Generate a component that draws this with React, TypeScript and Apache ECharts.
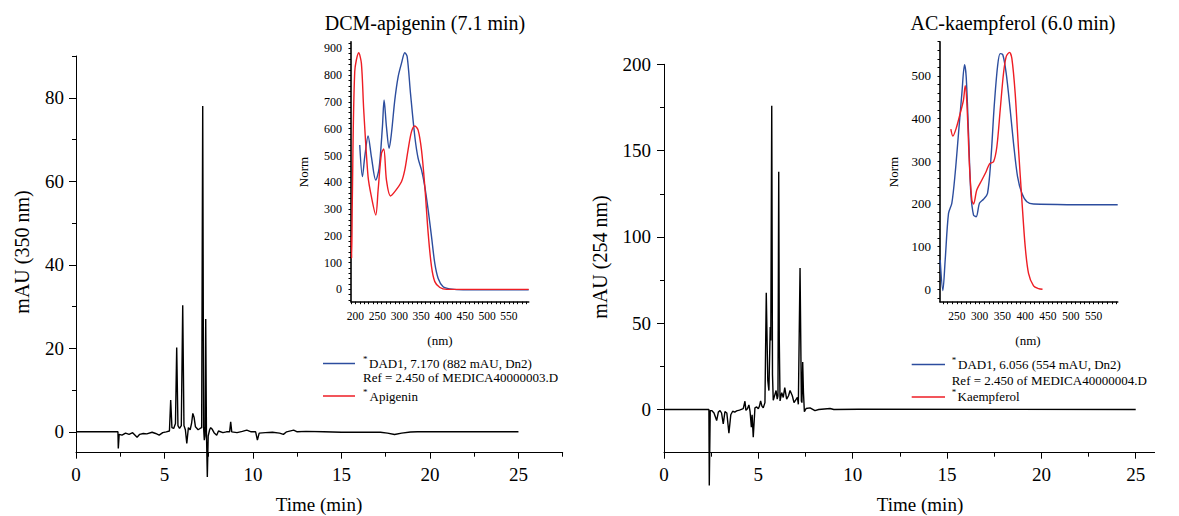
import React, { useEffect, useRef } from "react";
import * as echarts from "echarts";

// ---- Chromatogram (350 nm) : [time min, mAU]
const trace350: [number, number][] = [
  [0, 0], [2.37, 0], [2.39, -4], [2.44, -0.6], [2.6, -0.8], [2.8, -0.3], [3.0, -0.6], [3.2, -0.2],
  [3.45, -1.3], [3.6, -0.6], [3.8, -0.4], [4.0, -0.5], [4.3, -0.1], [4.5, -0.4], [4.7, -0.8],
  [4.9, -0.2], [5.1, 0], [5.28, 0.2], [5.35, 7.6], [5.42, 1], [5.52, 0.8], [5.62, 2], [5.69, 20.2],
  [5.76, 1.5], [5.85, 0.8], [5.95, 1.5], [6.03, 30.3], [6.1, 1.5], [6.18, 0.5], [6.26, -2.8],
  [6.35, 1], [6.45, 0.5], [6.53, 2], [6.6, 4.4], [6.67, 3.5], [6.75, 1.2], [6.9, 0.5], [7.01, 0.8],
  [7.1, 1], [7.16, 78], [7.21, 1], [7.25, -2], [7.29, -1], [7.33, 27], [7.37, 0], [7.42, -10.8],
  [7.47, -1], [7.55, 0.5], [7.61, 1], [7.7, 0.6], [7.8, -0.2], [7.95, -0.8], [8.05, 0.2], [8.3, -0.2],
  [8.5, 0], [8.68, 0], [8.74, 2.4], [8.8, 0], [9.1, -0.2], [9.4, 0.1], [9.65, 0.4], [9.9, 0],
  [10.15, 0], [10.25, -2], [10.35, -0.3], [10.7, -0.2], [11.1, -0.1], [11.5, -0.3], [11.72, -0.6],
  [11.9, 0], [12.3, 0.4], [12.5, 0], [13, 0.1], [14, 0], [15, -0.1], [16, -0.1], [17.2, -0.1],
  [17.6, -0.3], [18.0, -0.65], [18.4, -0.3], [18.9, -0.05], [19.3, 0], [25, 0],
];

// ---- Chromatogram (254 nm)
const trace254: [number, number][] = [
  [0, 0], [2.38, 0], [2.40, -44], [2.45, -0.6], [2.53, -0.6], [2.65, -2], [2.79, -6.4], [2.88, -1.5],
  [2.97, -0.6], [3.05, -2], [3.14, -8.3], [3.23, -1.2], [3.33, -2], [3.44, -13.7], [3.54, -3],
  [3.64, -1], [3.75, -1.5], [3.85, -0.8], [4.0, -0.3], [4.2, 0.5], [4.29, 4.8], [4.34, -0.5],
  [4.42, 0.5], [4.5, 2.7], [4.56, -1], [4.63, -10.2], [4.67, -3], [4.73, -16], [4.82, 1],
  [4.91, 1.5], [5.0, 0.5], [5.06, 2], [5.12, 5], [5.19, 2], [5.26, 1], [5.32, 3], [5.35, 4],
  [5.42, 67.7], [5.5, 16.8], [5.56, 11], [5.63, 47.8], [5.66, 40], [5.71, 176], [5.75, 20],
  [5.79, 5.4], [5.86, 8], [5.94, 11], [6.0, 6], [6.04, 8], [6.08, 137.7], [6.11, 40], [6.15, 5],
  [6.24, 9.8], [6.32, 7], [6.4, 12.7], [6.5, 6], [6.6, 8], [6.68, 11], [6.8, 8], [6.89, 4],
  [7.07, 7], [7.12, 3], [7.21, 82], [7.28, 5], [7.31, 4], [7.35, 27.5], [7.39, 10], [7.44, -1.3],
  [7.53, 0.6], [7.74, 1], [8.0, -0.6], [8.2, 0], [8.8, 0.6], [9.0, 0], [10.3, 0.2], [25, 0],
];

// ---- UV spectra : [nm, Norm]
const apigeninDad: [number, number][] = [
  [209.9, 539], [216, 421], [221.3, 495], [228.9, 573], [236.5, 495], [246.4, 408], [254, 452],
  [261.6, 607], [265.4, 707], [270.8, 607], [276.9, 527], [282.2, 583], [289.8, 707], [297.4, 794],
  [305, 844], [312.6, 884], [318, 869], [325.6, 732], [335.5, 570], [343, 489], [350.7, 446],
  [358.3, 383], [365.9, 296], [373.5, 197], [381, 97], [388.7, 41], [400, 10], [415.4, 2],
  [445.8, -2], [595, -2],
];
const apigeninStd: [number, number][] = [
  [190.9, 197], [191.5, 116], [193, 334], [198.5, 813], [207.6, 884], [213.7, 844], [219, 670],
  [228.9, 421], [236.5, 346], [246.4, 278], [251.8, 371], [259.4, 508], [264.7, 524], [270.8, 408],
  [279.9, 349], [289.8, 365], [305, 402], [312.6, 446], [320, 520], [327.9, 589], [335.5, 610],
  [343, 595], [350.7, 520], [358.3, 383], [365.9, 209], [373.5, 85], [381, 29], [392.5, 7],
  [407.8, 0], [595, 0],
];
const kaempDad: [number, number][] = [
  [213.4, 69], [219.3, -3], [224.4, 69], [231.7, 178], [239, 202], [246.3, 272], [253.7, 366],
  [261, 459], [266.8, 526], [270.5, 498], [275.6, 366], [280.7, 225], [286.6, 174], [292.4, 170],
  [299.8, 202], [308.5, 211], [317.3, 225], [324.6, 303], [331.9, 428], [339.3, 522], [345.1, 552],
  [351, 549], [358.3, 506], [367.1, 420], [374.4, 342], [383.2, 264], [392.7, 225], [403.7, 205],
  [418.3, 200], [603, 198],
];
const kaempStd: [number, number][] = [
  [236.8, 375], [241.2, 359], [248.5, 377], [257.3, 412], [264.6, 444], [268.3, 477], [272, 436],
  [277.8, 287], [282.9, 209], [286.6, 200], [293.9, 233], [304.9, 256], [314.4, 276], [321.7, 294],
  [330.5, 299], [337.8, 334], [345.1, 420], [352.4, 506], [358.3, 545], [365.6, 555], [370.7, 541],
  [378, 459], [385.4, 327], [392.7, 209], [400, 100], [407.3, 37.5], [418.3, 8], [429.3, 1.6],
  [438, 0],
];

// ---- tick labels
const timeLabels = [0, 5, 10, 15, 20, 25];
const timeMinorLeft = [2.5, 7.5, 12.5, 17.5, 22.5, 27.5];
const timeMinorRight = [2.5, 7.5, 12.5, 17.5, 22.5];
const mau350Labels = [0, 20, 40, 60, 80];
const mau350Minor = [10, 30, 50, 70, 90];
const mau254Labels = [0, 50, 100, 150, 200];
const mau254Minor = [25, 75, 125, 175];
const nmLabelsLeft = [200, 250, 300, 350, 400, 450, 500, 550];
const nmLabelsRight = [250, 300, 350, 400, 450, 500, 550];
const normLabelsLeft = [0, 100, 200, 300, 400, 500, 600, 700, 800, 900];
const normLabelsRight = [0, 100, 200, 300, 400, 500];

const FONT = '"Liberation Serif", "DejaVu Serif", serif';
const BLUE = "#2c4d9e";
const RED = "#ee1d24";

function range(a: number, b: number, step: number) {
  const out: number[] = [];
  for (let v = a; v <= b + 1e-9; v += step) out.push(Math.round(v * 1000) / 1000);
  return out;
}

function mainX(grid: number, max: number, labels: number[]) {
  return {
    type: "value", gridIndex: grid, min: 0, max, position: "bottom",
    axisLine: { show: true, onZero: false, lineStyle: { color: "#000", width: 1 } },
    axisTick: { show: true, customValues: labels, length: 6, lineStyle: { color: "#000", width: 1 } },
    axisLabel: { customValues: labels, color: "#000", fontFamily: FONT, fontSize: 19, margin: 12 },
    splitLine: { show: false },
  };
}
function minorX(grid: number, max: number, vals: number[]) {
  return {
    type: "value", gridIndex: grid, min: 0, max, position: "bottom",
    axisLine: { show: false, onZero: false },
    axisTick: { show: true, customValues: vals, length: 4, lineStyle: { color: "#000", width: 1 } },
    axisLabel: { show: false },
    splitLine: { show: false },
  };
}
function mainY(grid: number, min: number, max: number, labels: number[], margin: number) {
  return {
    type: "value", gridIndex: grid, min, max, position: "left",
    axisLine: { show: true, onZero: false, lineStyle: { color: "#000", width: 1 } },
    axisTick: { show: true, customValues: labels, length: 7, lineStyle: { color: "#000", width: 1 } },
    axisLabel: { customValues: labels, color: "#000", fontFamily: FONT, fontSize: 19, margin },
    splitLine: { show: false },
  };
}
function minorY(grid: number, min: number, max: number, vals: number[]) {
  return {
    type: "value", gridIndex: grid, min, max, position: "left",
    axisLine: { show: false, onZero: false },
    axisTick: { show: true, customValues: vals, length: 4, lineStyle: { color: "#000", width: 1 } },
    axisLabel: { show: false },
    splitLine: { show: false },
  };
}
function insetX(grid: number, min: number, max: number, labels: number[]) {
  return {
    type: "value", gridIndex: grid, min, max, position: "bottom",
    axisLine: { show: true, onZero: false, lineStyle: { color: "#000", width: 1.6 } },
    axisTick: { show: true, customValues: range(Math.ceil(min / 10) * 10, max, 10), length: 2.5, lineStyle: { color: "#000", width: 1 } },
    axisLabel: { customValues: labels, color: "#000", fontFamily: FONT, fontSize: 11.5, margin: 8 },
    splitLine: { show: false },
  };
}
function insetY(grid: number, min: number, max: number, labels: number[], fs: number, step: number) {
  return {
    type: "value", gridIndex: grid, min, max, position: "left",
    axisLine: { show: true, onZero: false, lineStyle: { color: "#000", width: 1.6 } },
    axisTick: { show: true, customValues: range(Math.ceil(min / step) * step, max, step), length: 2.5, lineStyle: { color: "#000", width: 1 } },
    axisLabel: { customValues: labels, color: "#000", fontFamily: FONT, fontSize: fs, margin: 9 },
    splitLine: { show: false },
  };
}

function txt(x: number, y: number, text: string, size: number, opts: any = {}) {
  return {
    type: "text", x, y, rotation: opts.rotation || 0, silent: true,
    style: {
      text, fill: "#000", font: `${size}px ${FONT}`,
      align: opts.align || "center", verticalAlign: "middle",
      textAlign: opts.align || "center", textVerticalAlign: "middle",
    },
  };
}
function seg(x1: number, x2: number, y: number, color: string) {
  return { type: "line", silent: true, shape: { x1, y1: y, x2, y2: y }, style: { stroke: color, lineWidth: 1.5 } };
}

export default function App() {
  const ref = useRef<HTMLDivElement>(null);
  useEffect(() => {
    if (!ref.current) return;
    const chart = echarts.init(ref.current, null, { renderer: "svg" });
    const lineS = (data: [number, number][], xi: number, yi: number, color: string, w: number, smooth: number) => ({
      type: "line", data, xAxisIndex: xi, yAxisIndex: yi, showSymbol: false, symbol: "none",
      smooth, clip: false, lineStyle: { color, width: w }, itemStyle: { color }, silent: true,
    });
    chart.setOption({
      animation: false,
      grid: [
        { left: 76, top: 56, width: 486.7, height: 396.7 },
        { left: 664, top: 64.3, width: 490.6, height: 388.4 },
        { left: 351, top: 41.7, width: 177.7, height: 260 },
        { left: 940, top: 41.7, width: 177.7, height: 260 },
      ],
      xAxis: [
        mainX(0, 27.5, timeLabels),
        minorX(0, 27.5, timeMinorLeft),
        mainX(1, 26, timeLabels),
        minorX(1, 26, timeMinorRight),
        insetX(2, 190, 595, nmLabelsLeft),
        insetX(3, 213, 603, nmLabelsRight),
      ],
      yAxis: [
        mainY(0, -5, 90, mau350Labels, 12),
        minorY(0, -5, 90, mau350Minor),
        mainY(1, -25, 200, mau254Labels, 13),
        minorY(1, -25, 200, mau254Minor),
        insetY(2, -46, 925, normLabelsLeft, 12, 20),
        insetY(3, -29, 580, normLabelsRight, 13, 20),
      ],
      series: [
        lineS(trace350, 0, 0, "#000", 1.4, 0),
        lineS(trace254, 2, 2, "#000", 1.4, 0),
        lineS(apigeninDad, 4, 4, BLUE, 1.4, 0.3),
        lineS(apigeninStd, 4, 4, RED, 1.4, 0.3),
        lineS(kaempDad, 5, 5, BLUE, 1.4, 0.3),
        lineS(kaempStd, 5, 5, RED, 1.4, 0.3),
      ],
      graphic: [
        txt(22, 252, "mAU (350 nm)", 20, { rotation: Math.PI / 2 }),
        txt(600, 257, "mAU (254 nm)", 20, { rotation: Math.PI / 2 }),
        txt(319, 504, "Time (min)", 19),
        txt(920, 504, "Time (min)", 19),
        txt(425, 23, "DCM-apigenin (7.1 min)", 20),
        txt(1013, 23, "AC-kaempferol (6.0 min)", 20),
        txt(303, 172, "Norm", 13, { rotation: Math.PI / 2 }),
        txt(893, 172, "Norm", 13, { rotation: Math.PI / 2 }),
        txt(440, 340, "(nm)", 13),
        txt(1028, 340, "(nm)", 13),
        // left legend
        seg(323, 355, 363.5, BLUE),
        txt(363, 358.5, "*", 9, { align: "left" }),
        txt(369, 363, "DAD1, 7.170 (882 mAU, Dn2)", 13, { align: "left" }),
        txt(363, 377.5, "Ref = 2.450 of MEDICA40000003.D", 13, { align: "left" }),
        seg(323, 355, 396, RED),
        txt(363, 391.5, "*", 9, { align: "left" }),
        txt(369.5, 396, "Apigenin", 13, { align: "left" }),
        // right legend
        seg(911.7, 945, 364.5, BLUE),
        txt(951.7, 359.5, "*", 9, { align: "left" }),
        txt(958, 364.3, "DAD1, 6.056 (554 mAU, Dn2)", 13, { align: "left" }),
        txt(951.7, 380, "Ref = 2.450 of MEDICA40000004.D", 13, { align: "left" }),
        seg(911.7, 945, 397, RED),
        txt(951.7, 392, "*", 9, { align: "left" }),
        txt(957.5, 396.7, "Kaempferol", 13, { align: "left" }),
      ],
    });
    return () => chart.dispose();
  }, []);
  return (
    <div
      ref={ref}
      style={{ position: "absolute", left: 0, top: 0, width: 1179, height: 516, background: "#fff" }}
    />
  );
}
